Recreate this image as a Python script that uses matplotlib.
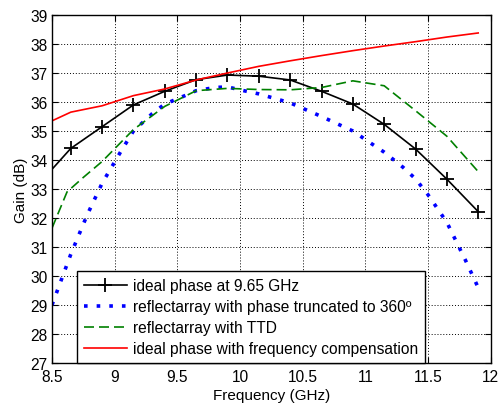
import numpy as np
import matplotlib
matplotlib.use("Agg")
import matplotlib.pyplot as plt

plt.rcParams['font.family'] = ['Liberation Sans', 'DejaVu Sans']

# Frequency grid (GHz) of the sampled curves
freq = [8.5, 8.65, 8.9, 9.15, 9.4, 9.65, 9.9, 10.15, 10.4, 10.65, 10.9, 11.15, 11.4, 11.65, 11.9]

# ideal phase at 9.65 GHz
gain_ideal = [33.68, 34.4, 35.15, 35.9, 36.37, 36.77, 36.93, 36.89, 36.76, 36.37, 35.93, 35.23, 34.38, 33.34, 32.22]

# ideal phase with frequency compensation
gain_comp = [35.35, 35.65, 35.87, 36.22, 36.45, 36.76, 37.0, 37.23, 37.42, 37.6, 37.77, 37.93, 38.08, 38.24, 38.38]

# reflectarray with TTD
freq_ttd = [8.5, 8.62, 8.75, 8.9, 9.15, 9.4, 9.65, 9.9, 10.15, 10.4, 10.65, 10.9, 11.15, 11.4, 11.65, 11.9]
gain_ttd = [31.65, 32.9, 33.4, 33.95, 35.05, 35.85, 36.39, 36.47, 36.43, 36.42, 36.5, 36.73, 36.56, 35.7, 34.82, 33.6]

# reflectarray with phase truncated to 360
freq_trunc = [8.5, 8.65, 8.78, 8.9, 9.05, 9.15, 9.3, 9.4, 9.55, 9.65, 9.8, 9.9, 10.03, 10.15,
              10.4, 10.65, 10.9, 11.05, 11.15, 11.3, 11.4, 11.5, 11.65, 11.8, 11.9]
gain_trunc = [29.0, 30.75, 32.1, 33.2, 34.3, 35.0, 35.6, 35.93, 36.2, 36.39, 36.5, 36.52, 36.39, 36.28,
              35.97, 35.5, 35.0, 34.56, 34.27, 33.75, 33.35, 32.8, 31.85, 30.53, 29.6]

x_ticks = [8.5, 9, 9.5, 10, 10.5, 11, 11.5, 12]
x_tick_labels = ['8.5', '9', '9.5', '10', '10.5', '11', '11.5', '12']
y_ticks = list(range(27, 40))

fig = plt.figure(figsize=(4.98, 4.06), dpi=100)
ax = fig.add_axes([0.1044, 0.1034, 0.881, 0.8572])

ax.plot(freq, gain_ideal, color='black', lw=1.2, marker='+', markersize=10,
        markeredgewidth=1.3, markevery=list(range(1, len(freq))),
        label='ideal phase at 9.65 GHz')
ax.plot(freq_trunc, gain_trunc, color='blue', lw=2.6, linestyle=(0, (1, 2.5)),
        label='reflectarray with phase truncated to 360\u00ba')
ax.plot(freq_ttd, gain_ttd, color='green', lw=1.2, linestyle=(0, (6, 3)),
        label='reflectarray with TTD')
ax.plot(freq, gain_comp, color='red', lw=1.2,
        label='ideal phase with frequency compensation')

ax.set_xlim(8.5, 12)
ax.set_ylim(27, 39)
ax.set_xticks(x_ticks)
ax.set_xticklabels(x_tick_labels)
ax.set_yticks(y_ticks)
ax.tick_params(direction='in', top=True, right=True, labelsize=11.2, length=4)
ax.tick_params(axis='x', pad=4)
ax.tick_params(axis='y', pad=3)
ax.grid(True, color='black', linestyle=(0, (1, 2)), lw=0.7)
for s in ax.spines.values():
    s.set_linewidth(1.0)

ax.set_xlabel('Frequency (GHz)', fontsize=11, labelpad=3)
ax.set_ylabel('Gain (dB)', fontsize=11, labelpad=2)

leg = ax.legend(loc='lower left', bbox_to_anchor=(0.0563, 0.0), borderaxespad=0,
                fontsize=11.2, handlelength=2.8, labelspacing=0.38, handletextpad=0.35,
                borderpad=0.45, fancybox=False, framealpha=1, edgecolor='black')
leg.get_frame().set_linewidth(1.0)

fig.savefig('out.png', dpi=100)
